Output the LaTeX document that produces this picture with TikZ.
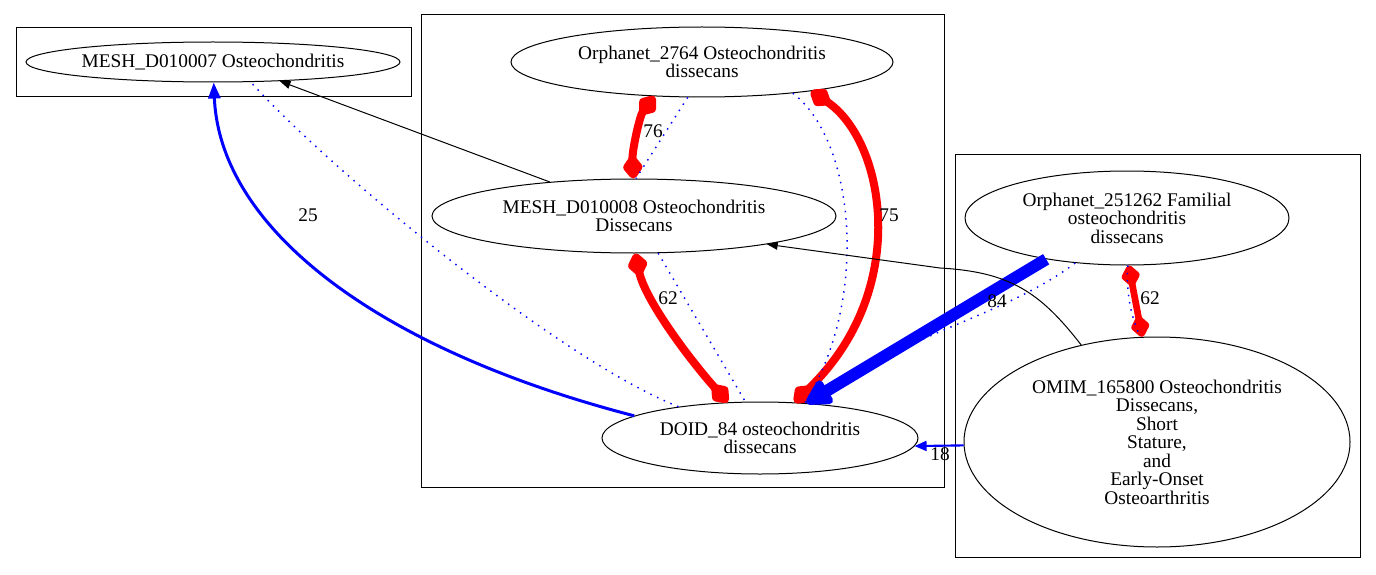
\documentclass[tikz,border=0pt]{standalone}
\usepackage{fontspec}
\setmainfont{Liberation Serif}
\usetikzlibrary{shapes.geometric,arrows.meta}
\begin{document}
\begin{tikzpicture}[x=0.75pt,y=-0.75pt,
  ell/.style={draw,ellipse,inner sep=0pt,line width=0.75pt,align=center,
    font=\fontsize{14.5}{13.9}\selectfont},
  clus/.style={draw,line width=0.75pt},
  lbl/.style={font=\fontsize{14.5}{13.9}\selectfont,inner sep=0pt},
  blk/.style={draw=black,line width=0.75pt,-{Triangle[length=8pt,width=6pt]}},
  dotl/.style={draw=blue,line width=1.1pt,dash pattern=on 1.1pt off 4.4pt},
  redl/.style={draw=red,line width=6pt,{Diamond[length=21pt,width=16pt,round]}-{Diamond[length=21pt,width=16pt,round]}},
  redthin/.style={draw=red,line width=5pt,{Diamond[length=19pt,width=15pt,round]}-{Diamond[length=19pt,width=15pt,round]}},
  bluea/.style={draw=blue,line width=2.25pt,-{Triangle[length=12pt,width=9pt]}},
  blueb/.style={draw=blue,line width=9pt,-{Triangle[length=22pt,width=22pt,round]}},
  bluec/.style={draw=blue,line width=1.6pt,-{Triangle[length=9pt,width=7.5pt]}}
]
\useasboundingbox (0,0) rectangle (1376,574);
% clusters
\draw[clus] (16,28) rectangle (411,97);
\draw[clus] (421,15) rectangle (944,487);
\draw[clus] (955,155) rectangle (1360,557);
% nodes
\node[ell,minimum width=280.5pt,minimum height=30pt] (m7) at (213,62) {MESH\_D010007 Osteochondritis};
\node[ell,minimum width=286.5pt,minimum height=52.5pt] (o2764) at (702,62) {Orphanet\_2764 Osteochondritis\\dissecans};
\node[ell,minimum width=303pt,minimum height=55.5pt] (m8) at (634,216) {MESH\_D010008 Osteochondritis\\Dissecans};
\node[ell,minimum width=237pt,minimum height=54pt] (doid) at (760,438) {DOID\_84 osteochondritis\\dissecans};
\node[ell,minimum width=243pt,minimum height=70.5pt] (o251) at (1127,218) {Orphanet\_251262 Familial\\osteochondritis\\dissecans};
\node[ell,minimum width=289.5pt,minimum height=157.5pt] (omim) at (1157,442) {OMIM\_165800 Osteochondritis\\Dissecans,\\Short\\Stature,\\and\\Early-Onset\\Osteoarthritis};
% edges
\draw[blk] (m8.158) -- (m7.-16);
\draw[bluea] (doid.170.6) .. controls (380,350) and (220,230) .. (m7.272);
\draw[dotl] (doid.159) .. controls (560,360) and (330,170) .. (m7.-28);
\draw[redl] (o2764.-144) .. controls (640,115) and (632,150) .. (m8.91);
\draw[dotl] (o2764.-112) -- (m8.87);
\draw[redl] (o2764.-15.4) .. controls (885,140) and (912,290) .. (doid.46);
\draw[dotl] (o2764.-19.5) .. controls (855,140) and (870,300) .. (doid.38);
\draw[redl] (m8.-88) .. controls (645,300) and (690,360) .. (doid.132.6);
\draw[dotl] (m8.-57) -- (doid.112.7);
\draw[blueb] (o251.-153.5) -- (doid.37);
\draw[dotl] (o251.-139.4) .. controls (1000,320) and (880,340) .. (doid.30);
\draw[redthin] (o251.-88) -- (omim.98);
\draw[dotl] (o251.-89) .. controls (1126,290) and (1130,315) .. (omim.99);
\draw[blk] (omim.128.6) .. controls (1040,292) and (1010,272) .. (940,268) -- (m8.-12);
\draw[bluec] (omim.181) -- (doid.-3);
% labels
\node[lbl] (l76) at (653,131) {76};
\node[lbl] (l75) at (889,215) {75};
\node[lbl] (l62a) at (668,298) {62};
\node[lbl] (l25) at (308,215) {25};
\node[lbl] (l84) at (997,301) {84};
\node[lbl] (l62b) at (1150,298) {62};
\node[lbl] (l18) at (940,454) {18};
\end{tikzpicture}
\end{document}
